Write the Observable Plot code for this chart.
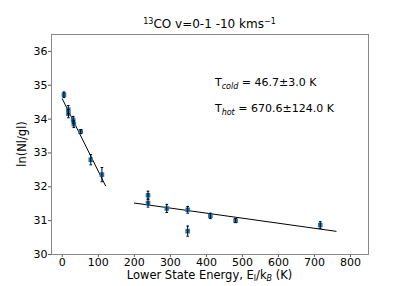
<!DOCTYPE html>
<html>
<head>
<meta charset="utf-8">
<script src="https://cdn.jsdelivr.net/npm/d3@7"></script>
<script src="https://cdn.jsdelivr.net/npm/@observablehq/plot@0.6"></script>
<style>
  html, body { margin: 0; padding: 0; background: #fff; }
  svg text { font-family: "DejaVu Sans", sans-serif; }
</style>
</head>
<body>
<div id="chart"></div>
<script>
// ---- data ----
const coldE   = [4.5, 16.5, 17, 30, 32, 51, 79, 110];
const coldLn  = [34.72, 34.28, 34.16, 33.98, 33.85, 33.63, 32.80, 32.36];
const coldErr = [0.08, 0.12, 0.12, 0.1, 0.1, 0.06, 0.15, 0.21];

const hotE   = [238, 238, 290, 348, 348, 411, 481, 716];
const hotLn  = [31.75, 31.52, 31.36, 31.32, 30.69, 31.14, 31.00, 30.87];
const hotErr = [0.12, 0.12, 0.12, 0.1, 0.15, 0.08, 0.06, 0.1];

const coldFitE  = [0, 120];
const coldFitLn = [34.6, 32.03];
const hotFitE   = [200, 760];
const hotFitLn  = [31.52, 30.685];

const xTicks = [0, 100, 200, 300, 400, 500, 600, 700, 800];
const yTicks = [30, 31, 32, 33, 34, 35, 36];

const titleText = {iso: "13", main: "CO v=0-1 -10 kms", sup: "\u22121"};
const tCold = {label: "cold", value: " = 46.7\u00b13.0 K", E: 425, ln: 34.97};
const tHot  = {label: "hot",  value: " = 670.6\u00b1124.0 K", E: 425, ln: 34.2};

// ---- tables ----
const pts = [
  ...coldE.map((E, i) => ({E, ln: coldLn[i], err: coldErr[i]})),
  ...hotE.map((E, i) => ({E, ln: hotLn[i], err: hotErr[i]}))
];
const coldFit = coldFitE.map((E, i) => ({E, ln: coldFitLn[i]}));
const hotFit  = hotFitE.map((E, i) => ({E, ln: hotFitLn[i]}));

const capSymbol = {
  draw(ctx, size) {
    const r = Math.sqrt(size) / 2;
    ctx.moveTo(-r, 0); ctx.lineTo(r, 0);
  }
};

const plot = Plot.plot({
  width: 409,
  height: 286,
  marginLeft: 51,
  marginRight: 41,
  marginTop: 34,
  marginBottom: 32,
  style: {fontFamily: "DejaVu Sans", fontSize: "11px", color: "black", background: "white"},
  x: {domain: [-30, 850]},
  y: {domain: [30, 36.5]},
  marks: [
    Plot.axisX({ticks: xTicks, tickFormat: d => String(d), tickSize: 3, tickPadding: 1, label: null, stroke: "#555"}),
    Plot.axisY({ticks: yTicks, tickFormat: d => String(d), tickSize: 3, tickPadding: 1, label: null, stroke: "#555"}),
    Plot.line(coldFit, {x: "E", y: "ln", stroke: "black", strokeWidth: 1}),
    Plot.line(hotFit, {x: "E", y: "ln", stroke: "black", strokeWidth: 1}),
    Plot.dot(pts, {x: "E", y: "ln", symbol: "square", r: 2.6, fill: "#1f77b4", stroke: "none"}),
    Plot.ruleX(pts, {x: "E", y1: d => d.ln - d.err, y2: d => d.ln + d.err, stroke: "black", strokeWidth: 1}),
    Plot.dot(pts, {x: "E", y: d => d.ln - d.err, symbol: capSymbol, r: 1.5, stroke: "black", fill: "none", strokeWidth: 1}),
    Plot.dot(pts, {x: "E", y: d => d.ln + d.err, symbol: capSymbol, r: 1.5, stroke: "black", fill: "none", strokeWidth: 1}),
    Plot.frame({stroke: "#888", strokeWidth: 1})
  ]
});

document.getElementById("chart").appendChild(plot);

const svg = d3.select(plot);
const sx = plot.scale("x"), sy = plot.scale("y");

// title
const t = svg.append("text")
  .attr("x", (51 + 368) / 2).attr("y", 28)
  .attr("text-anchor", "middle").attr("font-size", 12).attr("fill", "black");
t.append("tspan").attr("font-size", 8).attr("dy", -4).text(titleText.iso);
t.append("tspan").attr("dy", 4).text(titleText.main);
t.append("tspan").attr("font-size", 8).attr("dy", -4).text(titleText.sup);

// y label
svg.append("text")
  .attr("transform", `translate(26,${(34 + 254) / 2}) rotate(-90)`)
  .attr("text-anchor", "middle").attr("font-size", 11.5).attr("fill", "black")
  .text("ln(Nl/gl)");

// x label
const xl = svg.append("text")
  .attr("x", (51 + 368) / 2).attr("y", 279)
  .attr("text-anchor", "middle").attr("font-size", 11.5).attr("fill", "black");
xl.append("tspan").text("Lower State Energy, E");
xl.append("tspan").attr("font-size", 8).attr("dy", 2).text("l");
xl.append("tspan").attr("dy", -2).text("/k");
xl.append("tspan").attr("font-size", 8).attr("dy", 2).attr("font-style", "italic").text("B");
xl.append("tspan").attr("dy", -2).text(" (K)");

// annotations
for (const a of [tCold, tHot]) {
  const tx = svg.append("text")
    .attr("x", sx.apply(a.E)).attr("y", sy.apply(a.ln))
    .attr("text-anchor", "start")
    .attr("font-size", 11).attr("fill", "black");
  tx.append("tspan").text("T");
  tx.append("tspan").attr("font-size", 8).attr("font-style", "italic").attr("dy", 3).text(a.label);
  tx.append("tspan").attr("dy", -3).text(a.value);
}
</script>
</body>
</html>
